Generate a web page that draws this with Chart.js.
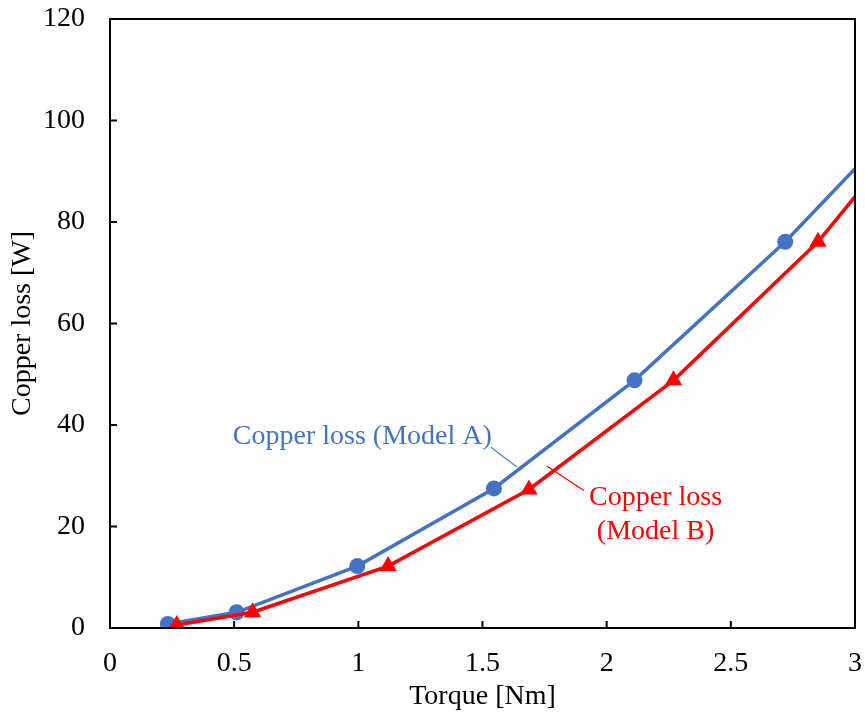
<!DOCTYPE html>
<html>
<head>
<meta charset="utf-8">
<script src="https://cdn.jsdelivr.net/npm/chart.js@4"></script>
<style>
  html, body { margin: 0; padding: 0; background: #fff; }
  #wrap { width: 865px; height: 722px; }
</style>
</head>
<body>
<div id="wrap"><canvas id="loss-chart"></canvas></div>
<script>
// torque [Nm] vs copper loss [W]
var torqueA = [0.233, 0.51, 0.996, 1.546, 2.112, 2.719, 3.0];
var lossA = [0.8, 3.1, 12.2, 27.5, 48.8, 76.1, 90.5];
var torqueB = [0.269, 0.574, 1.12, 1.687, 2.269, 2.851, 3.0];
var lossB = [0.6, 3.1, 12.2, 27.3, 48.8, 76.1, 85.0];

var xTicks = [0, 0.5, 1, 1.5, 2, 2.5, 3];
var yTicks = [0, 20, 40, 60, 80, 100, 120];

var blue = "#4472C4";
var red = "#FF0000";
var serif = "'Liberation Serif', 'Times New Roman', serif";
var fontSize = 28;

function toPoints(xs, ys) {
    return xs.map(function (x, i) {
        return { x: x, y: ys[i] };
    });
}

// the last point sits on the right border and carries no marker
function markerSizes(n, r) {
    var sizes = [];
    for (var i = 0; i < n; i++) sizes.push(i === n - 1 ? 0 : r);
    return sizes;
}

// keep the plot box fixed: labels may hang over the edges
function noOverhang(scale) {
    scale.paddingTop = 0;
    scale.paddingBottom = 0;
    scale.paddingLeft = 0;
    scale.paddingRight = 0;
}

// callout labels, positioned in data units
var notes = [
    { lines: ["Copper loss (Model A)"], color: blue, x: 1.016, y: 37.8,
      leader: [1.534, 35.6, 1.639, 31.7] },
    { lines: ["Copper loss", "(Model B)"], color: red, x: 2.197, y: 22.3,
      leader: [1.759, 31.9, 1.908, 27.1] },
];

var framePlugin = {
    id: "frame",
    afterDatasetsDraw: function (chart) {
        var c = chart.ctx;
        var a = chart.chartArea;
        var xs = chart.scales.x;
        var ys = chart.scales.y;
        c.save();
        c.strokeStyle = "#000";
        c.lineWidth = 2;
        c.strokeRect(a.left, a.top, a.right - a.left, a.bottom - a.top);
        // inward tick marks
        xTicks.forEach(function (t) {
            var px = xs.getPixelForValue(t);
            c.beginPath();
            c.moveTo(px, a.bottom);
            c.lineTo(px, a.bottom - 7);
            c.stroke();
        });
        yTicks.forEach(function (t) {
            var py = ys.getPixelForValue(t);
            c.beginPath();
            c.moveTo(a.left, py);
            c.lineTo(a.left + 7, py);
            c.stroke();
        });
        // callouts
        c.font = fontSize + "px " + serif;
        c.textAlign = "center";
        c.textBaseline = "middle";
        notes.forEach(function (n) {
            var cx = xs.getPixelForValue(n.x);
            var cy = ys.getPixelForValue(n.y);
            c.fillStyle = n.color;
            var lh = 34;
            var y0 = cy - (n.lines.length - 1) * lh / 2;
            n.lines.forEach(function (s, i) {
                c.fillText(s, cx, y0 + i * lh);
            });
            c.strokeStyle = n.color;
            c.lineWidth = 1.2;
            c.beginPath();
            c.moveTo(xs.getPixelForValue(n.leader[0]), ys.getPixelForValue(n.leader[1]));
            c.lineTo(xs.getPixelForValue(n.leader[2]), ys.getPixelForValue(n.leader[3]));
            c.stroke();
        });
        c.restore();
    },
};

var ctx = document.getElementById("loss-chart").getContext("2d");
var lossChart = new Chart(ctx, {
    type: "scatter",
    data: {
        datasets: [
            {
                label: "Copper loss (Model B)",
                data: toPoints(torqueB, lossB),
                showLine: true,
                borderColor: red,
                backgroundColor: red,
                borderWidth: 3.5,
                pointStyle: "triangle",
                pointRadius: markerSizes(torqueB.length, 10),
                pointBorderWidth: 0,
            },
            {
                label: "Copper loss (Model A)",
                data: toPoints(torqueA, lossA),
                showLine: true,
                borderColor: blue,
                backgroundColor: blue,
                borderWidth: 3.5,
                pointStyle: "circle",
                pointRadius: markerSizes(torqueA.length, 8),
                pointBorderWidth: 0,
            },
        ],
    },
    options: {
        responsive: true,
        maintainAspectRatio: false,
        animation: false,
        layout: { padding: { top: 19, right: 8, left: 0, bottom: 0 } },
        plugins: {
            legend: { display: false },
            tooltip: { enabled: false },
        },
        scales: {
            x: {
                type: "linear",
                min: 0,
                max: 3,
                afterBuildTicks: function (scale) {
                    scale.ticks = xTicks.map(function (v) { return { value: v }; });
                },
                afterFit: function (scale) {
                    scale.height = 94;
                    noOverhang(scale);
                },
                grid: { display: false, drawTicks: false },
                border: { display: false },
                ticks: {
                    color: "#000",
                    padding: 19,
                    maxRotation: 0,
                    font: { family: serif, size: fontSize },
                    callback: function (v) { return String(v); },
                },
                title: {
                    display: true,
                    text: "Torque [Nm]",
                    color: "#000",
                    padding: { top: 0, bottom: 9 },
                    font: { family: serif, size: fontSize },
                },
            },
            y: {
                min: 0,
                max: 120,
                afterBuildTicks: function (scale) {
                    scale.ticks = yTicks.map(function (v) { return { value: v }; });
                },
                afterFit: function (scale) {
                    scale.width = 110;
                    noOverhang(scale);
                },
                grid: { display: false, drawTicks: false },
                border: { display: false },
                ticks: {
                    color: "#000",
                    padding: 25,
                    font: { family: serif, size: fontSize },
                    callback: function (v) { return String(v); },
                },
                title: {
                    display: true,
                    text: "Copper loss [W]",
                    color: "#000",
                    padding: { top: 6, bottom: 0 },
                    font: { family: serif, size: fontSize },
                },
            },
        },
    },
    plugins: [framePlugin],
});
</script>
</body>
</html>
